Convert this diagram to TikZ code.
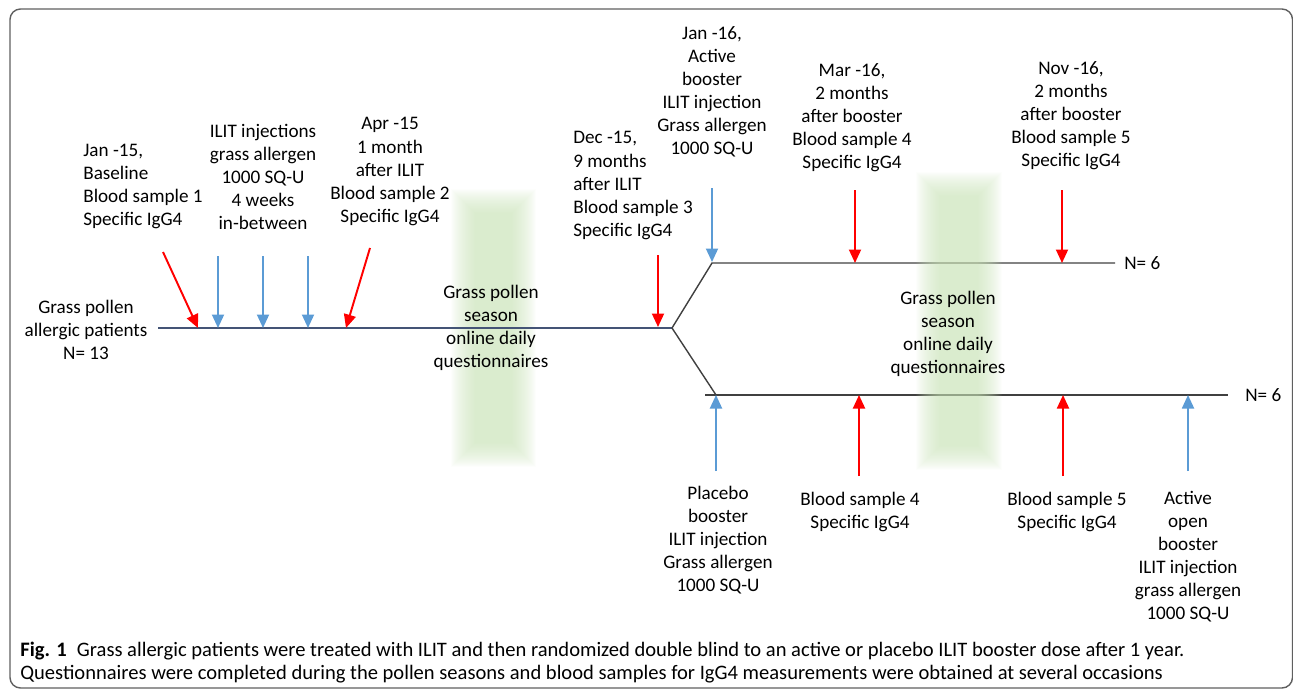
\documentclass[tikz,border=0pt]{standalone}
\usepackage{fontspec}
\setmainfont{Carlito}
\usetikzlibrary{arrows.meta,positioning}
\definecolor{samplered}{RGB}{255,0,0}
\definecolor{injectblue}{RGB}{91,155,213}
\definecolor{branchgray}{RGB}{64,64,64}
\definecolor{lineblue}{RGB}{68,84,118}
\definecolor{seasongreen}{RGB}{200,226,182}
\definecolor{framegray}{RGB}{95,95,95}

\tikzset{
  lbl/.style={font=\fontsize{10.9}{13.1}\selectfont, align=center, inner sep=0pt},
  caption/.style={font=\fontsize{11.7}{13}\selectfont, anchor=west, inner sep=0pt},
  marker/.style={line width=1.1pt, -{Triangle[width=0.24cm, length=0.27cm]}},
  sample/.style={marker, color=samplered},
  inject/.style={marker, color=injectblue},
}

\begin{document}
\begin{tikzpicture}[x=0.02cm, y=-0.02cm]
    \useasboundingbox (0,0) rectangle (1293,689);
    % Figure frame
    \draw[framegray, line width=0.8pt, rounded corners=6pt] (10,9) rectangle (1292.5,688);

    % First pollen season (soft green band)
    \foreach \d in {-10,-9,...,14}
      \fill[seasongreen, opacity=0.042] (465-\d,203-\d) rectangle (522+\d,453+\d);

    % Timeline and randomisation split
    \coordinate (start) at (158,328);
    \coordinate (split) at (672,328);
    \coordinate (upA) at (712,263);
    \coordinate (upEnd) at (1115,263);
    \coordinate (loA) at (705,395);
    \coordinate (loB) at (716,395);
    \coordinate (loEnd) at (1228,395);
    \draw[lineblue, line width=0.8pt] (start) -- (split);
    \draw[branchgray, line width=0.8pt] (split) -- (upA) -- (upEnd);
    \draw[branchgray, line width=0.8pt] (split) -- (loB);
    \draw[branchgray, line width=0.8pt] (loA) -- (loEnd);

    % Second pollen season, lying over the arms
    \foreach \d in {-10,-9,...,14}
      \fill[seasongreen, opacity=0.042] (930-\d,186-\d) rectangle (988+\d,456+\d);

    % Blood samples (red) and injections (blue) on the first year
    \coordinate (s1a) at (163,252);  \coordinate (s1b) at (198,328);
    \coordinate (s2a) at (370,248);  \coordinate (s2b) at (346,328);
    \coordinate (s3a) at (658,255);  \coordinate (s3b) at (658,327);
    \draw[sample] (s1a) -- (s1b);
    \draw[sample] (s2a) -- (s2b);
    \draw[sample] (s3a) -- (s3b);
    \foreach \x [count=\i] in {218,263,308} {
      \coordinate (inj\i a) at (\x,256);
      \coordinate (inj\i b) at (\x,328);
      \draw[inject] (inj\i a) -- (inj\i b);
    }

    % Active arm (from above)
    \coordinate (actA) at (712,188);  \coordinate (actB) at (712,262);
    \draw[inject] (actA) -- (actB);
    \foreach \x/\n in {855/4,1062/5} {
      \coordinate (up\n a) at (\x,190);
      \coordinate (up\n b) at (\x,263);
      \draw[sample] (up\n a) -- (up\n b);
    }

    % Placebo arm (from below)
    \foreach \x/\n in {716/pl,1188/op} {
      \coordinate (lo\n a) at (\x,471);
      \coordinate (lo\n b) at (\x,395);
      \draw[inject] (lo\n a) -- (lo\n b);
    }
    \foreach \x/\n in {859/4,1063/5} {
      \coordinate (lo\n a) at (\x,476);
      \coordinate (lo\n b) at (\x,395);
      \draw[sample] (lo\n a) -- (lo\n b);
    }

    % Labels
    \node[lbl, align=left, anchor=west] (base) at (83,186.5) {Jan -15,\\Baseline\\Blood sample 1\\Specific IgG4};
    \node[lbl] (ilit) at (263,176.5) {ILIT injections\\grass allergen\\1000 SQ-U\\4 weeks\\in-between};
    \node[lbl] (apr) at (390,171.5) {Apr -15\\1 month\\after ILIT\\Blood sample 2\\Specific IgG4};
    \node[lbl] (pat) at (86,329.5) {Grass pollen\\allergic patients\\N= 13};
    \node[lbl] (season1) at (491,327.5) {Grass pollen\\season\\online daily\\questionnaires};
    \node[lbl, align=left, anchor=west] (dec) at (573,185.5) {Dec -15,\\9 months\\after ILIT\\Blood sample 3\\Specific IgG4};
    \node[lbl] (jan16) at (712,91.5) {Jan -16,\\Active\\booster\\ILIT injection\\Grass allergen\\1000 SQ-U};
    \node[lbl] (mar16) at (852,117.5) {Mar -16,\\2 months\\after booster\\Blood sample 4\\Specific IgG4};
    \node[lbl] (nov16) at (1071,116) {Nov -16,\\2 months\\after booster\\Blood sample 5\\Specific IgG4};
    \node[lbl] (season2) at (948,333.5) {Grass pollen\\season\\online daily\\questionnaires};
    \node[lbl, anchor=west] (nup) at (1124,263) {N= 6};
    \node[lbl, anchor=west] (nlo) at (1245,395) {N= 6};
    \node[lbl] (placebo) at (718,540.5) {Placebo\\booster\\ILIT injection\\Grass allergen\\1000 SQ-U};
    \node[lbl] (bs4) at (860,512) {Blood sample 4\\Specific IgG4};
    \node[lbl] (bs5) at (1067,512) {Blood sample 5\\Specific IgG4};
    \node[lbl] (open) at (1188,556.5) {Active\\open\\booster\\ILIT injection\\grass allergen\\1000 SQ-U};

    % Caption
    \node[caption] (cap1) at (20,651) {\textbf{Fig. 1}\enspace Grass allergic patients were treated with ILIT and then randomized double blind to an active or placebo ILIT booster dose after 1 year.};
    \node[caption] (cap2) at (20,674) {Questionnaires were completed during the pollen seasons and blood samples for IgG4 measurements were obtained at several occasions};
\end{tikzpicture}
\end{document}
